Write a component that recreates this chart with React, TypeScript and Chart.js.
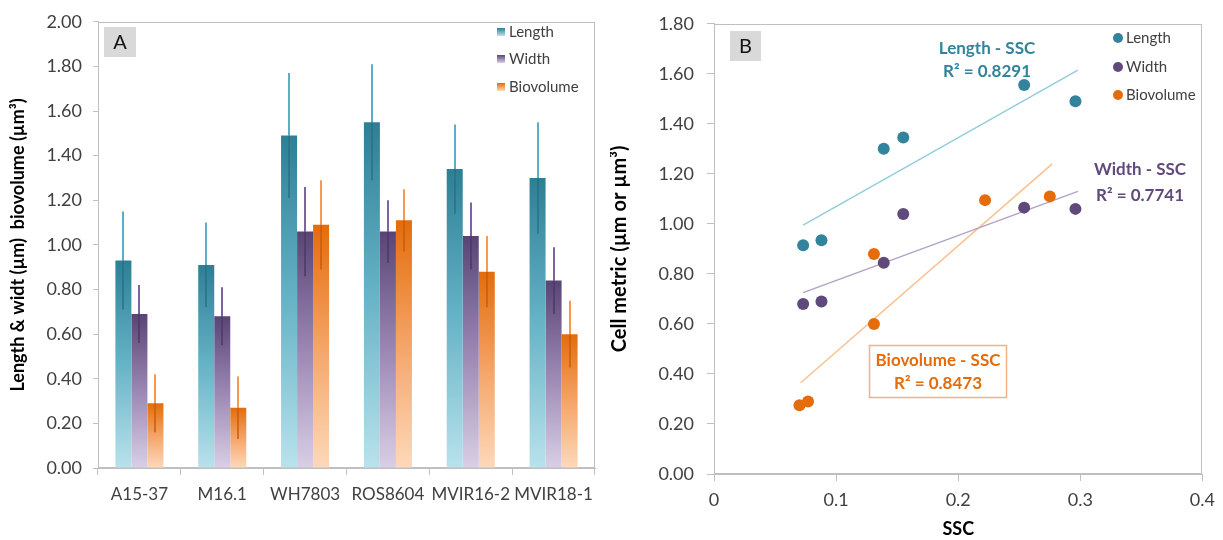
import React, { useEffect, useRef } from 'react';
import { Chart, registerables } from 'chart.js';

Chart.register(...registerables);

// ---------- Panel A data ----------
const categories = ['A15-37', 'M16.1', 'WH7803', 'ROS8604', 'MVIR16-2', 'MVIR18-1'];
const lengthValues = [0.93, 0.91, 1.49, 1.55, 1.34, 1.30];
const lengthErrors = [0.22, 0.19, 0.28, 0.26, 0.20, 0.25];
const widthValues = [0.69, 0.68, 1.06, 1.06, 1.04, 0.84];
const widthErrors = [0.13, 0.13, 0.20, 0.14, 0.15, 0.15];
const biovolumeValues = [0.29, 0.27, 1.09, 1.11, 0.88, 0.60];
const biovolumeErrors = [0.13, 0.14, 0.20, 0.14, 0.16, 0.15];
const seriesNames = ['Length', 'Width', 'Biovolume'];

// ---------- Panel B data ----------
const sscLength = [0.073, 0.088, 0.139, 0.155, 0.254, 0.296];
const cellLength = [0.915, 0.935, 1.30, 1.345, 1.555, 1.49];
const sscWidth = [0.073, 0.088, 0.139, 0.155, 0.254, 0.296];
const cellWidth = [0.68, 0.69, 0.845, 1.04, 1.065, 1.06];
const sscBiovolume = [0.070, 0.077, 0.131, 0.131, 0.222, 0.275];
const cellBiovolume = [0.275, 0.29, 0.88, 0.60, 1.095, 1.11];
// trend line end points
const trendLengthX = [0.073, 0.298];
const trendLengthY = [0.995, 1.615];
const trendWidthX = [0.073, 0.298];
const trendWidthY = [0.725, 1.13];
const trendBiovolumeX = [0.071, 0.277];
const trendBiovolumeY = [0.365, 1.24];
const rSquared = ['0.8291', '0.7741', '0.8473'];

const FONT = 'Lato, "Open Sans", sans-serif';
const TICK_COLOR = '#404040';
const AXIS_COLOR = '#bfbfbf';

const LENGTH_STOPS = ['#2d7f96', '#67b3c7', '#b9e2ec'];
const WIDTH_STOPS = ['#594575', '#9a87b3', '#d9cfe6'];
const BIO_STOPS = ['#e46c0a', '#f4a468', '#fdd9ba'];

const LENGTH_COLOR = '#31849b';
const WIDTH_COLOR = '#604a7b';
const BIO_COLOR = '#e46c0a';

function toPoints(xs: number[], ys: number[]) {
  return xs.map((x, i) => ({ x, y: ys[i] }));
}

function barGradient(stops: string[]) {
  return (ctx: any) => {
    const chart = ctx.chart;
    const y = chart.scales && chart.scales.y;
    if (!chart.chartArea || !y || ctx.type !== 'data') return stops[0];
    const top = y.getPixelForValue(ctx.raw);
    const bottom = y.getPixelForValue(0);
    if (!isFinite(top) || !isFinite(bottom) || bottom - top < 1) return stops[0];
    const g = chart.ctx.createLinearGradient(0, top, 0, bottom);
    stops.forEach((c, i) => g.addColorStop(i / (stops.length - 1), c));
    return g;
  };
}

const framePlugin = {
  id: 'frame',
  beforeDatasetsDraw(chart: any) {
    const { left, top, right, bottom } = chart.chartArea;
    const c = chart.ctx;
    c.save();
    c.strokeStyle = AXIS_COLOR;
    c.lineWidth = 1;
    c.strokeRect(Math.round(left) + 0.5, Math.round(top) + 0.5, Math.round(right - left) - 1, Math.round(bottom - top) - 1);
    c.restore();
  },
};

function panelLabelPlugin(letter: string, x: number, y: number, w: number, h: number) {
  return {
    id: 'panelLabel' + letter,
    afterDraw(chart: any) {
      const c = chart.ctx;
      c.save();
      c.fillStyle = '#d9d9d9';
      c.fillRect(x, y, w, h);
      c.fillStyle = '#111';
      c.font = `20px ${FONT}`;
      c.textAlign = 'center';
      c.textBaseline = 'middle';
      c.fillText(letter, x + w / 2, y + h / 2 + 1);
      c.restore();
    },
  };
}

const errorBarPlugin = {
  id: 'errorBars',
  afterDatasetsDraw(chart: any) {
    const c = chart.ctx;
    const yScale = chart.scales.y;
    chart.data.datasets.forEach((ds: any, i: number) => {
      const meta = chart.getDatasetMeta(i);
      meta.data.forEach((bar: any, j: number) => {
        const v = ds.data[j];
        const e = ds.errors[j];
        const yTop = yScale.getPixelForValue(v + e);
        const yBar = yScale.getPixelForValue(v);
        const yBot = yScale.getPixelForValue(v - e);
        const x = Math.round(bar.x);
        c.save();
        c.lineWidth = 2;
        c.strokeStyle = ds.errColors[0];
        c.beginPath();
        c.moveTo(x, yTop);
        c.lineTo(x, yBar);
        c.stroke();
        c.lineWidth = 1.5;
        c.strokeStyle = ds.errColors[1];
        c.beginPath();
        c.moveTo(x, yBar);
        c.lineTo(x, yBot);
        c.stroke();
        c.restore();
      });
    });
  },
};

const legendAPlugin = {
  id: 'legendA',
  afterDraw(chart: any) {
    const c = chart.ctx;
    const rows = [32, 59, 87];
    const stops = [LENGTH_STOPS, WIDTH_STOPS, BIO_STOPS];
    c.save();
    chart.data.datasets.forEach((ds: any, i: number) => {
      const y = rows[i];
      const g = c.createLinearGradient(0, y - 4, 0, y + 4);
      g.addColorStop(0, stops[i][0]);
      g.addColorStop(1, stops[i][2]);
      c.fillStyle = g;
      c.fillRect(497, y - 4, 8, 8);
      c.fillStyle = TICK_COLOR;
      c.font = `15px ${FONT}`;
      c.textAlign = 'left';
      c.textBaseline = 'middle';
      c.fillText(ds.label, 509, y);
    });
    c.restore();
  },
};

const legendBPlugin = {
  id: 'legendB',
  afterDraw(chart: any) {
    const c = chart.ctx;
    const rows = [38, 67, 95];
    const colors = [LENGTH_COLOR, WIDTH_COLOR, BIO_COLOR];
    c.save();
    seriesNames.forEach((name, i) => {
      const y = rows[i];
      c.fillStyle = colors[i];
      c.beginPath();
      c.arc(508, y, 5, 0, Math.PI * 2);
      c.fill();
      c.fillStyle = TICK_COLOR;
      c.font = `15px ${FONT}`;
      c.textAlign = 'left';
      c.textBaseline = 'middle';
      c.fillText(name, 516, y);
    });
    c.restore();
  },
};

const annotationPlugin = {
  id: 'annotationsB',
  afterDraw(chart: any) {
    const c = chart.ctx;
    c.save();
    c.textAlign = 'center';
    c.textBaseline = 'middle';
    c.font = `bold 17px ${FONT}`;
    // Length
    c.fillStyle = LENGTH_COLOR;
    c.fillText('Length - SSC', 377, 49);
    c.fillText('R² = ' + rSquared[0], 377, 72);
    // Width
    c.fillStyle = WIDTH_COLOR;
    c.fillText('Width - SSC', 530, 170);
    c.fillText('R² = ' + rSquared[1], 530, 196);
    // Biovolume box
    c.fillStyle = '#ffffff';
    c.fillRect(259, 345, 137, 52);
    c.strokeStyle = '#f4b183';
    c.lineWidth = 1.5;
    c.strokeRect(259.5, 345.5, 137, 52);
    c.fillStyle = BIO_COLOR;
    c.fillText('Biovolume - SSC', 328, 361);
    c.fillText('R² = ' + rSquared[2], 328, 384);
    c.restore();
  },
};

export default function App() {
  const refA = useRef<HTMLCanvasElement | null>(null);
  const refB = useRef<HTMLCanvasElement | null>(null);

  useEffect(() => {
    document.body.style.margin = '0';
    const tickFont = { family: FONT, size: 18 };
    const catFont = { family: FONT, size: 17 };

    const chartA = new Chart(refA.current as HTMLCanvasElement, {
      type: 'bar',
      data: {
        labels: categories,
        datasets: [
          { label: seriesNames[0], data: lengthValues, backgroundColor: barGradient(LENGTH_STOPS), errors: lengthErrors, errColors: ['#5aafc6', '#2a7184'] } as any,
          { label: seriesNames[1], data: widthValues, backgroundColor: barGradient(WIDTH_STOPS), errors: widthErrors, errColors: ['#7b64a0', '#4a3866'] } as any,
          { label: seriesNames[2], data: biovolumeValues, backgroundColor: barGradient(BIO_STOPS), errors: biovolumeErrors, errColors: ['#f79a50', '#c85d08'] } as any,
        ],
      },
      options: {
        animation: false,
        responsive: false,
        layout: { padding: { top: 20, right: 15, left: 0, bottom: 0 } },
        datasets: { bar: { categoryPercentage: 0.58, barPercentage: 1.0 } },
        plugins: { legend: { display: false }, tooltip: { enabled: false } },
        scales: {
          x: {
            grid: { display: true, drawOnChartArea: false, drawTicks: true, tickLength: 7, color: AXIS_COLOR, offset: true },
            border: { color: AXIS_COLOR },
            ticks: { color: TICK_COLOR, font: catFont, maxRotation: 0, minRotation: 0, autoSkip: false, padding: 9 },
            afterFit: (s: any) => { s.height = 72; },
          },
          y: {
            min: 0,
            max: 2,
            grid: { display: true, drawOnChartArea: false, drawTicks: true, tickLength: 5, color: AXIS_COLOR },
            border: { color: AXIS_COLOR },
            ticks: { stepSize: 0.2, color: TICK_COLOR, font: tickFont, padding: 11, callback: (v: any) => Number(v).toFixed(2) },
            title: { display: true, text: 'Length & widt (µm)  biovolume (µm³)', color: '#000', font: { family: FONT, size: 18, weight: 'bold' }, padding: { top: 7, bottom: 0 } },
            afterFit: (s: any) => { s.width = 98; },
          },
        },
      } as any,
      plugins: [framePlugin, errorBarPlugin, legendAPlugin, panelLabelPlugin('A', 104, 27, 32, 30)],
    });

    const chartB = new Chart(refB.current as HTMLCanvasElement, {
      type: 'scatter',
      data: {
        datasets: [
          { label: 'Length', data: toPoints(sscLength, cellLength), backgroundColor: LENGTH_COLOR, pointRadius: 6, borderWidth: 0 },
          { label: 'Width', data: toPoints(sscWidth, cellWidth), backgroundColor: WIDTH_COLOR, pointRadius: 6, borderWidth: 0 },
          { label: 'Biovolume', data: toPoints(sscBiovolume, cellBiovolume), backgroundColor: BIO_COLOR, pointRadius: 6, borderWidth: 0 },
          { label: 'Length - SSC', data: toPoints(trendLengthX, trendLengthY), showLine: true, pointRadius: 0, borderColor: '#93cddd', borderWidth: 1.5 },
          { label: 'Width - SSC', data: toPoints(trendWidthX, trendWidthY), showLine: true, pointRadius: 0, borderColor: '#b3a2c7', borderWidth: 1.5 },
          { label: 'Biovolume - SSC', data: toPoints(trendBiovolumeX, trendBiovolumeY), showLine: true, pointRadius: 0, borderColor: '#fac090', borderWidth: 1.5 },
        ],
      },
      options: {
        animation: false,
        responsive: false,
        layout: { padding: { top: 20, right: 20, left: 0, bottom: 0 } },
        plugins: { legend: { display: false }, tooltip: { enabled: false } },
        scales: {
          x: {
            type: 'linear',
            min: 0,
            max: 0.4,
            grid: { display: true, drawOnChartArea: false, drawTicks: true, tickLength: 7, color: AXIS_COLOR },
            border: { color: AXIS_COLOR },
            ticks: { stepSize: 0.1, color: TICK_COLOR, font: tickFont, padding: 8, callback: (v: any) => String(Math.round(Number(v) * 10) / 10) },
            title: { display: true, text: 'SSC', color: '#000', font: { family: FONT, size: 18, weight: 'bold' }, padding: { top: 0, bottom: 0 } },
            afterFit: (s: any) => { s.height = 66; },
          },
          y: {
            min: 0,
            max: 1.8,
            grid: { display: true, drawOnChartArea: false, drawTicks: true, tickLength: 7, color: AXIS_COLOR },
            border: { color: AXIS_COLOR },
            ticks: { stepSize: 0.2, color: TICK_COLOR, font: tickFont, padding: 13, callback: (v: any) => Number(v).toFixed(2) },
            title: { display: true, text: 'Cell metric (µm or µm³)', color: '#000', font: { family: FONT, size: 20, weight: 'bold', lineHeight: 1.0 }, padding: { top: 0, bottom: 0 } },
            afterFit: (s: any) => { s.width = 104; },
          },
        },
      } as any,
      plugins: [framePlugin, legendBPlugin, annotationPlugin, panelLabelPlugin('B', 120, 31, 31, 30)],
    });

    return () => {
      chartA.destroy();
      chartB.destroy();
    };
  }, []);

  return (
    <div style={{ position: 'fixed', left: 0, top: 0, width: 1223, height: 540, background: '#fff' }}>
      <canvas ref={refA} width={610} height={540} style={{ position: 'absolute', left: 0, top: 0, width: 610, height: 540 }} />
      <canvas ref={refB} width={613} height={540} style={{ position: 'absolute', left: 610, top: 0, width: 613, height: 540 }} />
    </div>
  );
}
